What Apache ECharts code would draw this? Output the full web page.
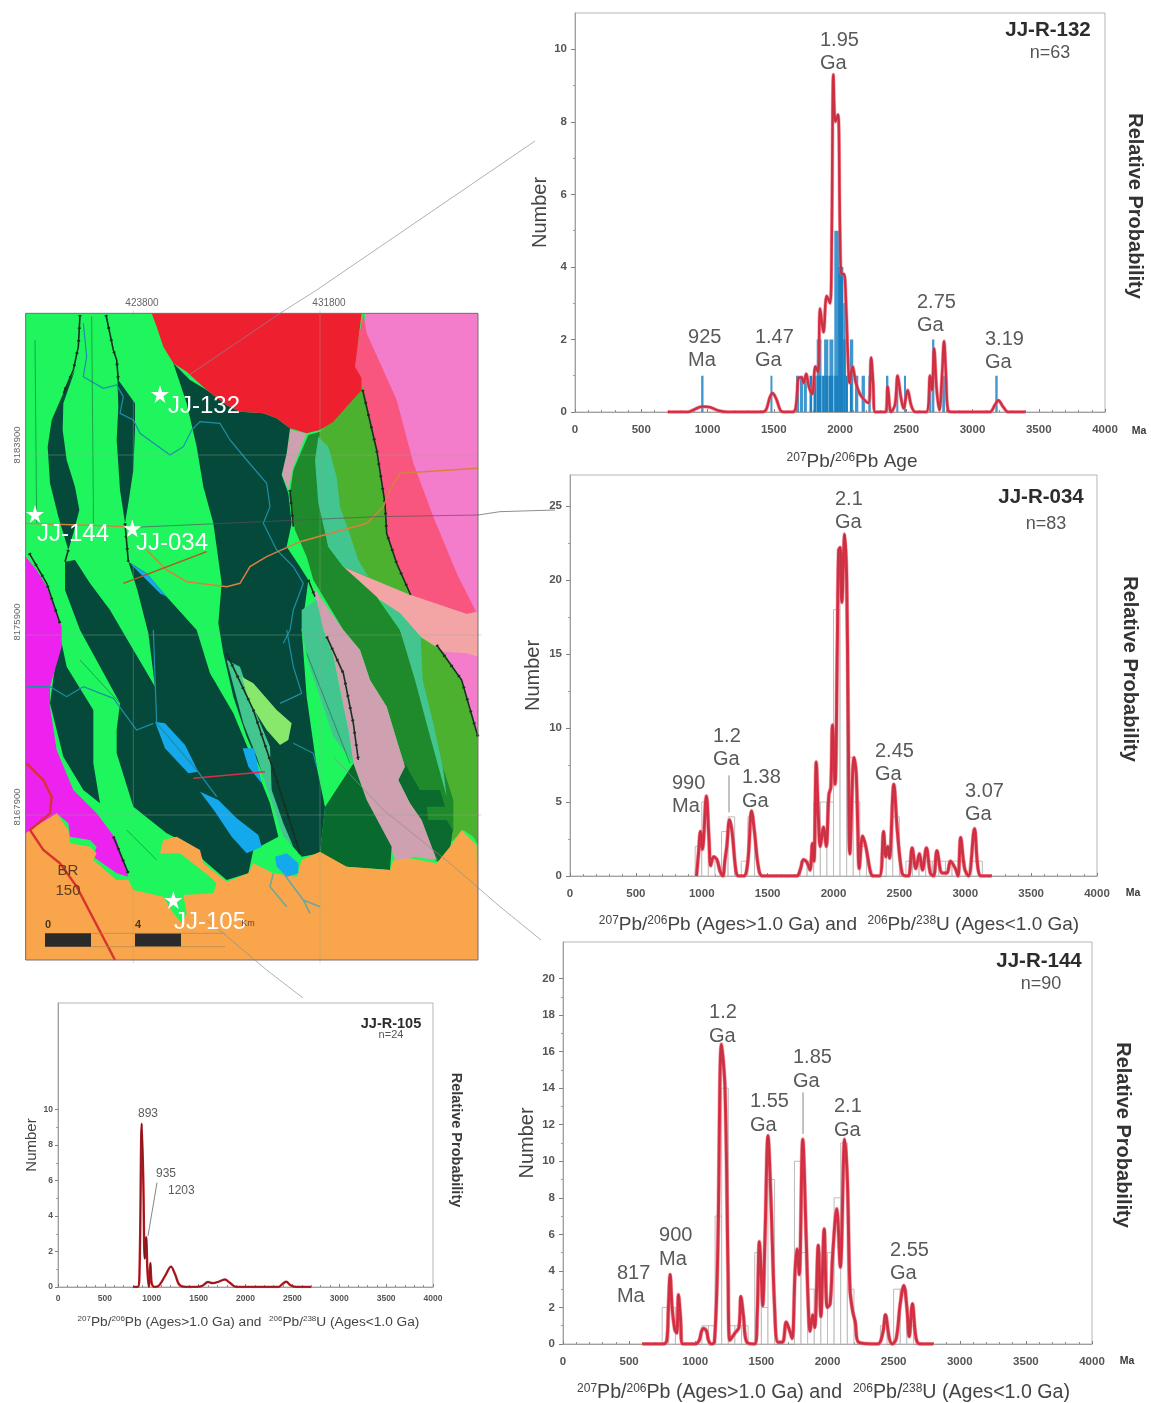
<!DOCTYPE html>
<html><head><meta charset="utf-8">
<style>html,body{margin:0;padding:0;background:#fff}#c{width:1151px;height:1403px;filter:blur(0.65px)}</style>
<script src="https://cdn.jsdelivr.net/npm/echarts@6/dist/echarts.min.js"></script>
</head><body><div id="c"></div>
<script>
// ---------- detrital zircon data ----------
const curve132=[[700,0],[850,0],[900,.07],[960,.15],[1020,.13],[1080,.04],[1150,0],[1400,0],[1440,.05],[1470,.4],[1490,.52],[1520,.35],[1550,.05],[1580,0],[1640,0],[1665,.1],[1690,.95],[1710,.95],[1725,.8],[1745,1.05],[1765,.7],[1790,.5],[1815,1.25],[1835,1.1],[1850,2.85],[1875,2.2],[1900,3.2],[1925,3],[1938,5],[1950,9.3],[1965,8],[1985,8.2],[2000,5],[2012,3.8],[2030,3.8],[2045,3],[2060,1.5],[2072,.8],[2095,1.25],[2120,.8],[2150,.5],[2180,.35],[2215,.25],[2235,1.5],[2250,.8],[2265,0],[2340,0],[2360,.7],[2385,0],[2415,.2],[2435,1],[2460,.4],[2480,.1],[2510,.6],[2540,.15],[2570,0],[2650,0],[2680,1],[2695,.6],[2710,1.75],[2730,.6],[2750,.05],[2770,1],[2785,1.95],[2800,1],[2815,.05],[2850,0],[3130,0],[3170,.2],[3195,.32],[3230,.15],[3270,0],[3400,0]];
const binsLight132=[[952,970,1],[1475,1490,1],[1668,1692,1],[1698,1722,1],[1728,1750,1],[1824,1860,2],[1880,1912,2],[1920,1950,2],[1957,1995,5],[2025,2043,3],[2075,2100,2],[2113,2138,1],[2163,2188,1],[2214,2232,1],[2347,2365,1],[2425,2440,1],[2483,2498,1],[2672,2690,1],[2695,2712,2],[2772,2792,1],[3172,3190,1]];
const binsDark132=[[1770,1790,1],[1800,1822,1],[1824,1860,1],[1865,1885,1],[1887,1912,1],[1915,1950,1],[1957,1987,1],[1987,2025,4],[2025,2043,2],[2043,2060,1],[2075,2090,1]];
const peaks132=[["925\nMa",853,2.36],["1.47\nGa",1358,2.36],["1.95\nGa",1849,10.57],["2.75\nGa",2581,3.35],["3.19\nGa",3094,2.33]];

const curve034=[[960,0],[975,1.5],[990,3],[1005,1.8],[1035,5.4],[1055,2.5],[1068,.7],[1090,1.3],[1115,1.1],[1140,.3],[1160,0],[1175,1],[1190,2],[1211,3.8],[1230,3],[1260,.3],[1280,0],[1320,0],[1350,1],[1378,4.4],[1400,3],[1430,.6],[1460,0],[1720,0],[1750,.5],[1772,1.1],[1800,.9],[1822,.4],[1840,2.2],[1852,1],[1869,7.7],[1885,4],[1900,2],[1924,3.3],[1945,2],[1965,5.5],[1980,6],[1992,10.2],[2012,6.2],[2028,15],[2039,22],[2050,22.2],[2063,18.5],[2085,23.1],[2100,20],[2112,10],[2124,1.5],[2156,8],[2172,7],[2185,3],[2195,.5],[2221,2.7],[2245,2],[2280,.3],[2300,0],[2350,0],[2380,3],[2397,1.3],[2412,2],[2425,1.2],[2458,6.2],[2485,3],[2520,.2],[2550,0],[2570,0],[2597,1.9],[2625,.5],[2652,1.5],[2675,.4],[2705,1.9],[2735,.2],[2760,0],[2785,1.7],[2825,.2],[2860,.2],[2888,1],[2925,.5],[2945,0],[2965,2.6],[2995,.5],[3025,0],[3070,3.2],[3095,.6],[3120,0],[3200,0]];
const bins034=[[950,1000,2],[1000,1050,5],[1050,1100,1],[1150,1200,3],[1200,1250,4],[1300,1350,1],[1350,1400,4],[1750,1800,1],[1800,1850,1],[1850,1900,5],[1900,1950,5],[1950,2000,5],[2000,2050,18],[2050,2100,21],[2100,2150,8],[2150,2200,5],[2200,2250,2],[2400,2450,2],[2450,2500,4],[2550,2600,1],[2600,2650,1],[2650,2700,1],[2700,2750,1],[2750,2800,1],[2800,2850,1],[2850,2900,1],[2900,2950,1],[2950,3000,1],[3050,3100,1],[3100,3130,1]];
const peaks034=[["990\nMa",774,7.06],["1.2\nGa",1085,10.24],["1.38\nGa",1305,7.43],["2.1\nGa",2011,26.25],["2.45\nGa",2315,9.22],["3.07\nGa",2998,6.52]];
const leader034=[[[1207,6.8],[1207,4.3]]];

const curve144=[[600,0],[760,0],[785,.2],[797,2],[810,3.8],[825,2],[845,.8],[860,.6],[873,2.7],[888,1.5],[905,0],[1000,0],[1030,.2],[1048,.7],[1062,.85],[1085,.7],[1100,.2],[1120,0],[1145,.1],[1170,5],[1198,16.4],[1225,14],[1248,4],[1262,.2],[1300,.6],[1330,.9],[1345,2.6],[1365,1.5],[1390,.1],[1450,0],[1468,1.5],[1485,5.6],[1498,4],[1510,2.1],[1528,6],[1550,11.4],[1572,8],[1600,2],[1625,.1],[1660,.1],[1688,1.2],[1715,.7],[1733,.3],[1755,4],[1770,5.2],[1786,3.8],[1813,11.2],[1838,6],[1855,2],[1868,.7],[1888,1.6],[1903,.9],[1930,5.4],[1950,1.5],[1975,6.3],[1998,2],[2020,2.2],[2040,5],[2070,7.4],[2097,4.2],[2130,11.2],[2150,9],[2170,3],[2190,1.8],[2210,1.2],[2235,.1],[2380,0],[2418,.6],[2438,1.6],[2468,.3],[2490,0],[2520,.3],[2550,2.2],[2577,3.2],[2600,2],[2618,.4],[2642,2.2],[2670,.3],[2700,0],[2800,0]];
const bins144=[[750,800,2],[800,850,2],[850,900,1],[1050,1100,1],[1100,1150,1],[1150,1200,7],[1200,1250,14],[1250,1300,1],[1300,1350,1],[1350,1400,1],[1450,1500,5],[1500,1550,2],[1550,1600,9],[1750,1800,10],[1800,1850,5],[1850,1900,3],[1900,1950,3],[1950,2000,5],[2000,2050,5],[2050,2100,8],[2100,2150,11],[2150,2200,3],[2400,2450,1],[2500,2550,3],[2550,2600,3],[2600,2650,1]];
const peaks144=[["817\nMa",408,4.51],["900\nMa",726,6.58],["1.2\nGa",1104,18.77],["1.55\nGa",1414,13.9],["1.85\nGa",1739,16.31],["2.1\nGa",2049,13.63],["2.55\nGa",2473,5.77]];
const leader144=[[[1815,13.77],[1815,11.5]]];

const curve105=[[800,0],[850,0],[870,1],[893,9.2],[910,6],[925,1.6],[940,2.8],[955,.8],[970,0],[985,1.35],[1000,.2],[1030,0],[1080,.1],[1150,.7],[1205,1.15],[1250,.7],[1300,.1],[1400,0],[1530,.05],[1600,.28],[1650,.22],[1700,.27],[1780,.42],[1830,.25],[1900,0],[2000,0],[2350,0],[2400,.2],[2435,.3],[2480,.1],[2550,0],[2700,0]];
const peaks105=[["893",853,10.17],["935",1045,6.78],["1203",1173,5.82]];
const leader105=[[[1056,5.88],[960,2.88]]];

const yTicks132=[0,2,4,6,8,10], yMinor132=[1,3,5,7,9];
const yTicks034=[0,5,10,15,20,25], yMinor034=[2.5,7.5,12.5,17.5,22.5];
const yTicks144=[0,2,4,6,8,10,12,14,16,18,20], yMinor144=[1,3,5,7,9,11,13,15,17,19];
const yTicks105=[0,2,4,6,8,10], yMinor105=[1,3,5,7,9];

// ---------- geological map outlines (map units, drawn through a hidden pair of axes) ----------
const mapFrame=[[77,70],[1434,70],[1434,2010],[77,2010]];
const pinkEast=[[1095,70],[1434,70],[1434,1345],[1385,1170],[1330,1085],[1230,915],[1090,300]];
const roseBelt=[[1090,70],[1100,130],[1190,330],[1240,520],[1300,680],[1370,850],[1428,965],[1400,972],[1230,915],[1190,820],[1160,730],[1150,620],[1130,480],[1090,340],[1085,265],[1060,235],[1075,150]];
const salmonBelt=[[1030,830],[1232,915],[1400,972],[1434,965],[1434,1100],[1400,1090],[1330,1085],[1262,1040],[1200,970],[1140,930]];
const midGreenN=[[960,425],[1040,350],[1088,290],[1130,480],[1155,640],[1160,730],[1190,820],[1232,915],[1100,860],[1030,830],[950,700],[930,500]];
const midGreenS=[[1260,1040],[1330,1085],[1385,1170],[1434,1345],[1434,1665],[1420,1640],[1390,1620],[1350,1660],[1360,1530],[1340,1480],[1290,1310],[1260,1170]];
const greenStrip=[[925,435],[960,425],[950,500],[955,620],[985,770],[1030,830],[1130,920],[1200,1020],[1260,1170],[1290,1310],[1360,1530],[1360,1620],[1320,1720],[1290,1700],[1260,1590],[1230,1540],[1195,1470],[1215,1430],[1190,1350],[1160,1250],[1110,1170],[1080,1080],[1030,1020],[1000,970],[940,870],[920,800],[885,720],[868,620],[880,540]];
const tealEast=[[1140,930],[1200,970],[1262,1040],[1268,1170],[1300,1300],[1330,1440],[1340,1520],[1285,1320],[1245,1170],[1200,1020]];
const tealNorth=[[955,440],[985,470],[1010,560],[1020,650],[1045,720],[1075,810],[1105,860],[1030,830],[985,770],[955,640],[945,510]];
const deepGreenSE=[[1215,1420],[1195,1470],[1230,1540],[1265,1590],[1295,1670],[1320,1720],[1350,1680],[1358,1620],[1340,1590],[1285,1590],[1280,1550],[1335,1550],[1320,1500],[1260,1500],[1225,1440]];
const mauveN=[[870,420],[920,430],[880,530],[865,600],[845,550],[860,490]];
const mauveS=[[935,880],[960,920],[1030,1020],[1080,1080],[1110,1170],[1160,1250],[1190,1350],[1215,1430],[1195,1470],[1230,1540],[1265,1590],[1310,1710],[1240,1700],[1190,1720],[1170,1670],[1100,1530],[1060,1420],[1045,1320],[1020,1200],[1000,1100],[970,1020]];
const deepGreenBlock=[[1060,1420],[975,1550],[960,1690],[1040,1730],[1170,1740],[1175,1670],[1100,1530]];
const darkLensA=[[225,240],[190,310],[155,390],[143,470],[150,580],[175,680],[205,780],[220,730],[238,660],[225,590],[200,510],[188,420],[190,340]];
const darkLensB=[[350,200],[355,270],[405,340],[405,420],[400,540],[385,640],[375,700],[360,600],[350,450],[355,350]];
const darkCentre=[[520,220],[570,270],[620,300],[680,345],[720,365],[790,370],[830,385],[870,415],[860,490],[845,555],[865,610],[875,700],[860,770],[900,830],[925,870],[905,1020],[930,1200],[945,1290],[975,1550],[960,1690],[905,1700],[870,1660],[800,1480],[740,1340],[700,1220],[670,1090],[655,1000],[665,880],[640,700],[610,590],[590,470],[560,340]];
const brightEast=[[870,715],[895,760],[925,820],[945,900],[930,960],[905,1020],[920,1220],[950,1430],[975,1550],[1060,1420],[1040,1320],[1020,1200],[1000,1100],[970,1020],[935,880],[905,770]];
const tealStripeE=[[905,960],[950,930],[970,1020],[1000,1100],[1020,1200],[1045,1320],[1060,1420],[1000,1340],[960,1220],[925,1120],[905,1020]];
const darkWest=[[185,1060],[200,1130],[280,1260],[280,1420],[300,1540],[250,1500],[190,1400],[150,1240],[165,1130]];
const darkSouth=[[195,815],[225,810],[270,880],[330,960],[365,1020],[430,1130],[465,1190],[445,1030],[412,900],[385,815],[440,850],[500,920],[590,1020],[630,1150],[700,1270],[750,1390],[810,1540],[835,1640],[760,1680],[745,1750],[680,1770],[610,1710],[580,1670],[500,1630],[400,1550],[350,1390],[350,1320],[360,1240],[240,1020],[195,900]];
const tealStripeM=[[680,1110],[720,1130],[760,1250],[810,1370],[815,1500],[850,1600],[880,1670],[850,1640],[810,1520],[770,1400],[730,1300]];
const limeLens=[[725,1160],[760,1180],[830,1260],[875,1300],[865,1350],[840,1365],[800,1320],[750,1240]];
const magentaBelt=[[77,800],[110,840],[140,890],[185,1010],[185,1070],[150,1190],[150,1250],[170,1380],[220,1500],[290,1570],[350,1650],[385,1760],[350,1750],[280,1700],[290,1670],[270,1650],[210,1640],[205,1600],[170,1570],[105,1620],[77,1630]];
const orangeCover=[[77,1630],[105,1610],[170,1570],[205,1620],[210,1660],[270,1670],[290,1690],[280,1710],[350,1770],[385,1770],[400,1800],[490,1820],[520,1870],[545,1900],[560,1870],[550,1815],[640,1810],[650,1780],[630,1760],[540,1690],[480,1690],[490,1650],[530,1640],[600,1680],[610,1720],[680,1775],[745,1750],[760,1720],[820,1750],[890,1760],[905,1710],[960,1685],[1040,1730],[1170,1740],[1180,1710],[1230,1705],[1310,1720],[1350,1670],[1385,1620],[1430,1665],[1434,2010],[77,2010]];
const redBody=[[455,70],[1085,70],[1075,150],[1065,230],[1085,265],[1085,300],[1040,350],[1000,395],[960,420],[920,430],[870,415],[830,385],[790,370],[720,365],[680,345],[620,300],[560,245],[520,220],[490,170],[470,110]];
const lakeA=[[465,1295],[495,1300],[555,1365],[595,1445],[565,1450],[495,1375]];
const lakeB=[[600,1505],[655,1530],[710,1585],[775,1635],[785,1670],[740,1690],[695,1640],[645,1565]];
const lakeC=[[825,1700],[860,1690],[895,1720],[895,1750],[860,1760],[830,1730]];
const lakeD=[[728,1375],[762,1375],[785,1480],[745,1430]];
const lakeE=[[390,820],[440,850],[500,920],[480,910],[430,860]];
const scaleBlockA=[[135,1930],[273,1930],[273,1970],[135,1970]];
const scaleBlockB=[[405,1930],[543,1930],[543,1970],[405,1970]];

const riverA=[[250,100],[260,200],[250,260],[310,295],[350,285],[370,320],[360,370],[400,390],[420,430],[510,495],[550,470],[575,420],[600,395],[660,400],[690,450],[740,510],[800,580],[810,650],[790,700],[830,780],[880,830],[910,880],[880,960],[870,1020],[850,1060]];
const riverB=[[80,1190],[150,1190],[200,1220],[250,1190],[340,1225],[410,1320],[460,1300]];
const riverC=[[860,1020],[880,1130],[905,1210],[840,1240]];
const riverD=[[880,1360],[940,1390],[950,1430]];
const riverE=[[460,1020],[470,1300],[590,1440],[650,1520]];
const deltaA=[[820,1750],[810,1790],[860,1850]];
const deltaB=[[850,1750],[910,1830],[960,1850]];
const deltaC=[[910,1830],[930,1870]];
const roadA=[[1434,535],[1200,550],[1170,600],[1150,650],[1100,700],[900,755],[800,800],[750,830],[720,880],[680,890],[560,875],[500,840],[440,780]];
const roadB=[[77,700],[240,705],[380,710]];
const roadC=[[370,880],[620,785]];
const roadD=[[580,1465],[795,1445]];
const roadBR=[[80,1420],[130,1470],[155,1520],[150,1570],[90,1620],[130,1680],[180,1720],[230,1790],[345,2010]];
const faults=[[[240,75],[235,170],[220,240],[190,310]],[[318,75],[340,180],[350,210],[355,270]],[[88,790],[140,880],[180,1000]],[[1088,300],[1130,480],[1155,640],[1160,730],[1190,820],[1232,915]],[[1310,1065],[1385,1170],[1434,1340]],[[980,1040],[1030,1150],[1060,1300],[1075,1410]],[[680,1090],[760,1260],[830,1470],[900,1690]],[[205,780],[195,815]],[[375,700],[385,815]],[[340,1640],[385,1750]],[[925,870],[945,920]],[[870,600],[880,710]]];
const thinLines=[[[275,80],[280,640],[280,700]],[[105,150],[110,700]],[[240,1110],[360,1240]],[[380,1620],[470,1710]],[[920,1090],[1050,1420]]];
const gridV=[[[400,60],[400,2020]],[[960,60],[960,2020]]];
const gridH=[[[1434,495],[77,495]],[[77,1035],[1445,1035]],[[77,1575],[1445,1575]]];
const linkA=[[1605,-447],[950,0],[840,70],[560,260]];
const linkB=[[1665,660],[1500,665],[1434,675],[1130,680],[400,712]];
const linkC=[[1623,1950],[1500,1850],[1350,1720],[1150,1560],[1000,1400]];
const linkD=[[909,2124],[800,2040],[670,1930],[620,1890]];
const sampleStars=[[480,312],[105,672],[397,715],[520,1830]];

const mapFills=[
 [mapFrame,'#1ff65e'],[pinkEast,'#f37ccb'],[roseBelt,'#f8557f'],[salmonBelt,'#f3a5a5'],[midGreenN,'#4cb12f'],[midGreenS,'#4cb12f'],[greenStrip,'#1f8a2b'],[tealEast,'#42c58f'],[tealNorth,'#42c58f'],[deepGreenSE,'#0b6a2e'],[mauveN,'#cfa0b0'],[mauveS,'#cfa0b0'],[deepGreenBlock,'#096a2d'],
 [darkLensA,'#05493a'],[darkLensB,'#05493a'],[darkCentre,'#05493a'],[brightEast,'#1ff65e'],[tealStripeE,'#42c58f'],[darkWest,'#05493a'],[darkSouth,'#05493a'],[tealStripeM,'#42c58f'],[limeLens,'#88e86b'],[magentaBelt,'#ee22ee'],[orangeCover,'#f9a54b'],[redBody,'#ee2030'],
 [lakeA,'#13a9ec'],[lakeB,'#13a9ec'],[lakeC,'#13a9ec'],[lakeD,'#13a9ec'],[lakeE,'#13a9ec'],[scaleBlockA,'#2b2a2a'],[scaleBlockB,'#2b2a2a']
];
const mapStrokes=[];
[riverA,riverB,riverC,riverD,riverE].forEach(p=>mapStrokes.push([p,'#1e8fa8',1.2]));
[deltaA,deltaB,deltaC].forEach(p=>mapStrokes.push([p,'#6fa69a',1.6]));
thinLines.forEach(p=>mapStrokes.push([p,'rgba(10,70,40,.65)',.7]));
gridV.concat(gridH).forEach(p=>mapStrokes.push([p,'rgba(150,170,150,.55)',.7]));
faults.forEach(p=>{mapStrokes.push([p,'#17301f',1.6]);mapStrokes.push([p,'#17301f',3,[1.5,11]]);});
mapStrokes.push([roadA,'#d9803f',1.5],[roadB,'#d9803f',1.3],[roadC,'#b9541f',1.5],[roadD,'#d9304a',1.5],[roadBR,'#d8342f',2.4]);
mapStrokes.push([[[273,1930],[675,1930]],'#b08a55',.7],[[[273,1970],[675,1970]],'#b08a55',.7]);
mapStrokes.push([mapFrame.concat([mapFrame[0]]),'#7d6a6e',1]);
[linkA,linkC,linkD].forEach(p=>mapStrokes.push([p,'rgba(140,140,140,.85)',.8]));
mapStrokes.push([linkB,'rgba(90,80,90,.85)',.8]);

// ---------- panels ----------
const FONT='"Liberation Sans",Arial,sans-serif';
const panels=[
 {curve:curve132,lists:[[binsLight132,'#3f97cf',null],[binsDark132,'#1b80bf',null]],peaks:peaks132,leaders:[],yTicks:yTicks132,yMinor:yMinor132,ymax:11,left:575,top:13,w:530,h:399,
  xName:'{s|207}Pb/{s|206}Pb Age',nameGap:40,numGap:23,pad:[0,0,0,24],fs:{tick:11.5,num:20,x:19,sup:12,peak:20,lh:23},lineW:2.6},
 {curve:curve034,lists:[[bins034,'#ffffff','#bdbdbd']],peaks:peaks034,leaders:leader034,yTicks:yTicks034,yMinor:yMinor034,ymax:27.1,left:570,top:475,w:527,h:401,
  xName:'{s|207}Pb/{s|206}Pb (Ages>1.0 Ga) and  {s|206}Pb/{s|238}U (Ages<1.0 Ga)',nameGap:39,numGap:27,pad:[0,0,0,11],fs:{tick:11.5,num:20,x:19,sup:12,peak:20,lh:23.5},lineW:3},
 {curve:curve144,lists:[[bins144,'#ffffff','#bdbdbd']],peaks:peaks144,leaders:leader144,yTicks:yTicks144,yMinor:yMinor144,ymax:22,left:563,top:942,w:529,h:402,
  xName:'{s|207}Pb/{s|206}Pb (Ages>1.0 Ga) and  {s|206}Pb/{s|238}U (Ages<1.0 Ga)',nameGap:39,numGap:26,pad:[0,8,0,0],fs:{tick:11.5,num:20,x:19.6,sup:12,peak:20,lh:23.5},lineW:3},
 {curve:curve105,lists:[],peaks:peaks105,leaders:leader105,yTicks:yTicks105,yMinor:yMinor105,ymax:16,left:58,top:1003,w:375,h:284,
  xName:'{s|207}Pb/{s|206}Pb (Ages>1.0 Ga) and  {s|206}Pb/{s|238}U (Ages<1.0 Ga)',nameGap:28,numGap:15,pad:[0,0,0,6],fs:{tick:8.5,num:15,x:13.7,sup:8,peak:12,lh:14},lineW:1.8,dark:true}
];

const grids=[{left:0,top:0,width:600,height:1040,show:false,outerBoundsMode:'none'}];
const xAxes=[{gridIndex:0,type:'value',min:0,max:1800,show:false}];
const yAxes=[{gridIndex:0,type:'value',min:-870,max:2250,inverse:true,show:false}];
const series=[];

series.push({type:'custom',xAxisIndex:0,yAxisIndex:0,silent:true,z:1,animation:false,clip:false,
 data:mapFills.map((_,i)=>[i]),encode:{x:0,y:0},
 renderItem:(p,api)=>{const m=mapFills[api.value(0)];return {type:'polygon',shape:{points:m[0].map(q=>api.coord(q))},style:{fill:m[1]}};}});
series.push({type:'custom',xAxisIndex:0,yAxisIndex:0,silent:true,z:2,animation:false,clip:false,
 data:mapStrokes.map((_,i)=>[i]),encode:{x:0,y:0},
 renderItem:(p,api)=>{const m=mapStrokes[api.value(0)];return {type:'polyline',shape:{points:m[0].map(q=>api.coord(q))},style:{fill:null,stroke:m[1],lineWidth:m[2],lineDash:m[3]||null}};}});
series.push({type:'scatter',xAxisIndex:0,yAxisIndex:0,silent:true,z:3,animation:false,data:sampleStars,
 symbol:'path://M50 0 L61 35 L98 35 L68 57 L79 91 L50 70 L21 91 L32 57 L2 35 L39 35Z',symbolSize:18,itemStyle:{color:'#ffffff',opacity:1}});

panels.forEach((P,i)=>{
 const g=i+1, yMain=yAxes.length;
 grids.push({left:P.left,top:P.top,width:P.w,height:P.h,show:true,outerBoundsMode:'none',borderColor:'#b5b5b5',borderWidth:1,backgroundColor:'transparent'});
 xAxes.push({gridIndex:g,type:'value',min:0,max:4000,interval:500,
  axisLine:{onZero:false,lineStyle:{color:'#a0a0a0'}},
  axisTick:{inside:true,length:3,lineStyle:{color:'#808080'}},
  minorTick:{show:true,splitNumber:5,length:2,lineStyle:{color:'#909090'}},
  splitLine:{show:false},minorSplitLine:{show:false},
  axisLabel:{formatter:v=>String(v),fontFamily:FONT,fontWeight:'bold',fontSize:P.fs.tick,color:'#555',margin:i===3?7:12,showMinLabel:true,showMaxLabel:true,hideOverlap:false},
  name:P.xName,nameLocation:'middle',nameGap:P.nameGap,
  nameTextStyle:{fontFamily:FONT,fontSize:P.fs.x,color:'#444',padding:P.pad,rich:{s:{fontFamily:FONT,fontSize:P.fs.sup,color:'#444',verticalAlign:'top',padding:[0,0,P.fs.x*0.35,0]}}}});
 yAxes.push({gridIndex:g,type:'value',min:0,max:P.ymax,position:'left',
  axisLine:{show:true,onZero:false,lineStyle:{color:'#a0a0a0'}},
  axisTick:{show:true,length:i===3?3:4,lineStyle:{color:'#808080'},customValues:P.yTicks},
  splitLine:{show:false},
  axisLabel:{customValues:P.yTicks,fontFamily:FONT,fontWeight:'bold',fontSize:P.fs.tick,color:'#555',margin:i===3?5:8},
  name:'Number',nameLocation:'middle',nameGap:P.numGap,nameTextStyle:{fontFamily:FONT,fontSize:P.fs.num,color:'#444'}});
 yAxes.push({gridIndex:g,type:'value',min:0,max:P.ymax,position:'left',
  axisLine:{show:false},axisLabel:{show:false},splitLine:{show:false},
  axisTick:{show:true,length:2,lineStyle:{color:'#a0a0a0'},customValues:P.yMinor}});
 const xi=xAxes.length-1;
 P.lists.forEach(([bins,fill,stroke])=>{
  series.push({type:'custom',xAxisIndex:xi,yAxisIndex:yMain,silent:true,z:4,animation:false,data:bins,encode:{x:[0,1],y:2},
   renderItem:(p,api)=>{const a=api.coord([api.value(0),api.value(2)]),b=api.coord([api.value(1),0]);
    return {type:'rect',shape:{x:a[0],y:a[1],width:b[0]-a[0],height:b[1]-a[1]},style:{fill:fill,stroke:stroke||null,lineWidth:stroke?1:0}};}});
 });
 if(!P.dark) series.push({type:'line',xAxisIndex:xi,yAxisIndex:yMain,data:P.curve,showSymbol:false,symbol:'none',smooth:.35,z:5,silent:true,animation:false,
  lineStyle:{color:'rgba(243,110,125,.55)',width:P.lineW+1.2}});
 series.push({type:'line',xAxisIndex:xi,yAxisIndex:yMain,data:P.curve,showSymbol:false,symbol:'none',smooth:.35,z:5,silent:true,animation:false,
  lineStyle:{color:P.dark?'#c01e28':'#dc3448',width:P.lineW+(P.dark?.6:0)}});
 series.push({type:'line',xAxisIndex:xi,yAxisIndex:yMain,data:P.curve,showSymbol:false,symbol:'none',smooth:.35,z:6,silent:true,animation:false,
  lineStyle:{color:P.dark?'#4a1414':'#a3303f',width:.7,opacity:.75}});
 P.leaders.forEach(L=>series.push({type:'line',xAxisIndex:xi,yAxisIndex:yMain,data:L,symbol:'none',z:6,silent:true,animation:false,lineStyle:{color:'#666',width:.8}}));
 series.push({type:'scatter',xAxisIndex:xi,yAxisIndex:yMain,symbolSize:0,z:7,silent:true,animation:false,
  data:P.peaks.map(k=>({value:[k[1],k[2]],label:{formatter:k[0]}})),
  label:{show:true,position:'inside',align:'left',verticalAlign:'top',fontFamily:FONT,fontSize:P.fs.peak,lineHeight:P.fs.lh,color:'#2f2f2f'}});
});

const titles=[
 ['JJ-R-132',1048,20,20.5,'bold','#2c2c2c'],['n=63',1050,44,18,'normal','#555'],
 ['JJ-R-034',1041,487,20.5,'bold','#2c2c2c'],['n=83',1046,515,18,'normal','#555'],
 ['JJ-R-144',1039,951,20.5,'bold','#2c2c2c'],['n=90',1041,975,18,'normal','#555'],
 ['JJ-R-105',391,1016,14.5,'bold','#2c2c2c'],['n=24',391,1029,11,'normal','#555']
].map(t=>({text:t[0],left:t[1],top:t[2],textAlign:'center',padding:0,textStyle:{fontFamily:FONT,fontSize:t[3],fontWeight:t[4],color:t[5]}}));

const txt=(text,x,y,size,fill,weight,rot,align)=>({type:'text',x:x,y:y,rotation:rot||0,z:50,silent:true,
 style:{text:text,fontFamily:FONT,fontSize:size,fontWeight:weight||'normal',fill:fill,align:align||'center',verticalAlign:'middle'}});
const notes=[
 txt('Relative Probability',1135,206,20,'#333','bold',-Math.PI/2),
 txt('Relative Probability',1130,669,20,'#333','bold',-Math.PI/2),
 txt('Relative Probability',1123,1135,20,'#333','bold',-Math.PI/2),
 txt('Relative Probability',456,1140,14.5,'#3a3a3a','bold',-Math.PI/2),
 txt('Ma',1139,431,10.5,'#3a3a3a','bold'),txt('Ma',1133,893,10.5,'#3a3a3a','bold'),txt('Ma',1127,1361,10.5,'#3a3a3a','bold'),
 txt('423800',142,303,10,'#666'),txt('431800',329,303,10,'#666'),
 txt('8183900',17,445,9.5,'#666','normal',Math.PI/2),txt('8175900',17,622,9.5,'#666','normal',Math.PI/2),txt('8167900',17,807,9.5,'#666','normal',Math.PI/2),
 txt('JJ-132',204,406,24,'#ffffff'),txt('JJ-144',73,534,24,'#ffffff'),txt('JJ-034',172,543,24,'#ffffff'),txt('JJ-105',210,922,24,'#ffffff'),
 txt('BR',68,871,15,'#5d3a20'),txt('150',68,891,15,'#5d3a20'),
 txt('0',48,925,11,'#4a3620','bold'),txt('4',138,925,11,'#4a3620','bold'),txt('Km',248,924,9,'#6d4426')
];

const chart=echarts.init(document.getElementById('c'),null,{renderer:'canvas'});
chart.setOption({animation:false,backgroundColor:'#fff',title:titles,grid:grids,xAxis:xAxes,yAxis:yAxes,series:series,graphic:notes,tooltip:{show:false}});
</script></body></html>
